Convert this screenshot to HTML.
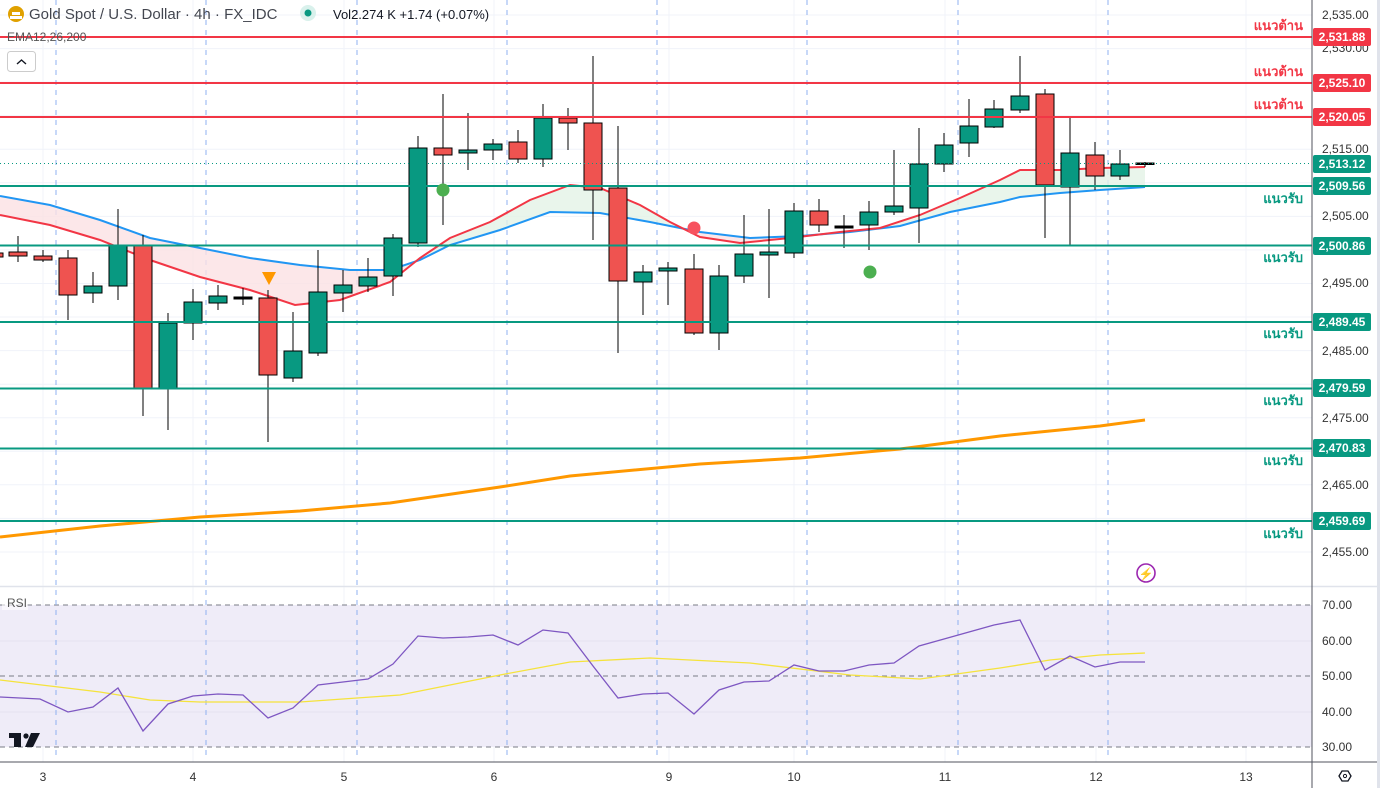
<!DOCTYPE html>
<html><head><meta charset="utf-8"><style>
html,body{margin:0;padding:0;background:#fff;}
svg{display:block;font-family:"Liberation Sans","Noto Sans CJK SC",sans-serif;}
</style></head><body>
<svg width="1380" height="788" viewBox="0 0 1380 788" xmlns="http://www.w3.org/2000/svg">
<defs>
<clipPath id="pk"><rect x="0" y="0" width="405" height="590"/><rect x="690" y="0" width="110" height="590"/></clipPath>
<clipPath id="gr"><rect x="405" y="0" width="285" height="590"/><rect x="800" y="0" width="350" height="590"/></clipPath>
<clipPath id="plot"><rect x="0" y="0" width="1312" height="762"/></clipPath>
</defs>
<rect x="1377" y="0" width="3" height="788" fill="#e0e3eb"/>
<!-- grid -->
<g stroke="#f0f3fa" stroke-width="1">
<line x1="0" y1="15" x2="1312" y2="15"/><line x1="0" y1="48.6" x2="1312" y2="48.6"/><line x1="0" y1="82.1" x2="1312" y2="82.1"/><line x1="0" y1="115.7" x2="1312" y2="115.7"/><line x1="0" y1="149.2" x2="1312" y2="149.2"/><line x1="0" y1="182.8" x2="1312" y2="182.8"/><line x1="0" y1="216.4" x2="1312" y2="216.4"/><line x1="0" y1="249.9" x2="1312" y2="249.9"/><line x1="0" y1="283.5" x2="1312" y2="283.5"/><line x1="0" y1="317" x2="1312" y2="317"/><line x1="0" y1="350.6" x2="1312" y2="350.6"/><line x1="0" y1="384.2" x2="1312" y2="384.2"/><line x1="0" y1="417.7" x2="1312" y2="417.7"/><line x1="0" y1="451.3" x2="1312" y2="451.3"/><line x1="0" y1="484.8" x2="1312" y2="484.8"/><line x1="0" y1="518.4" x2="1312" y2="518.4"/><line x1="0" y1="552" x2="1312" y2="552"/>
<line x1="43" y1="0" x2="43" y2="762"/><line x1="193" y1="0" x2="193" y2="762"/><line x1="344" y1="0" x2="344" y2="762"/><line x1="494" y1="0" x2="494" y2="762"/><line x1="669" y1="0" x2="669" y2="762"/><line x1="794" y1="0" x2="794" y2="762"/><line x1="945" y1="0" x2="945" y2="762"/><line x1="1096" y1="0" x2="1096" y2="762"/><line x1="1246" y1="0" x2="1246" y2="762"/>
</g>
<!-- RSI bg -->
<rect x="0" y="605" width="1312" height="142" fill="#efecf8"/>
<line x1="0" y1="641" x2="1312" y2="641" stroke="#e4e2ef"/><line x1="0" y1="712" x2="1312" y2="712" stroke="#e4e2ef"/>
<g stroke="#787b86" stroke-dasharray="5,4" stroke-width="1">
<line x1="0" y1="605" x2="1312" y2="605"/><line x1="0" y1="676" x2="1312" y2="676"/><line x1="0" y1="747" x2="1312" y2="747"/>
</g>
<line x1="0" y1="586.5" x2="1377" y2="586.5" stroke="#e0e3eb" stroke-width="1.5"/>
<!-- session dashed -->
<g stroke="#8fb0f0" stroke-dasharray="5,5" stroke-width="1">
<line x1="56" y1="0" x2="56" y2="757"/><line x1="206" y1="0" x2="206" y2="757"/><line x1="357" y1="0" x2="357" y2="757"/><line x1="507" y1="0" x2="507" y2="757"/><line x1="657" y1="0" x2="657" y2="757"/><line x1="807" y1="0" x2="807" y2="757"/><line x1="958" y1="0" x2="958" y2="757"/><line x1="1108" y1="0" x2="1108" y2="757"/>
</g>
<!-- EMA cloud -->
<g clip-path="url(#plot)">
<polygon clip-path="url(#pk)" fill="#fbe1e3" opacity="0.8" points="0,215 50,225 100,240 150,260 200,277 250,290 295,305 340,300 390,282 420,258 450,238 490,222 530,200 570,185 600,188 640,205 670,222 700,237 740,243 790,238 840,232 880,228 920,215 960,198 1000,180 1020,170 1060,170 1100,168 1145,167 1145,187 1100,190 1060,193 1020,197 1000,202 950,212 900,226 850,232 800,236 750,238 700,232 650,222 600,213 550,212 500,230 450,245 420,260 390,270 350,270 300,265 250,258 200,248 150,238 100,220 50,205 0,196"/>
<polygon clip-path="url(#gr)" fill="#e3f3e6" opacity="0.8" points="0,215 50,225 100,240 150,260 200,277 250,290 295,305 340,300 390,282 420,258 450,238 490,222 530,200 570,185 600,188 640,205 670,222 700,237 740,243 790,238 840,232 880,228 920,215 960,198 1000,180 1020,170 1060,170 1100,168 1145,167 1145,187 1100,190 1060,193 1020,197 1000,202 950,212 900,226 850,232 800,236 750,238 700,232 650,222 600,213 550,212 500,230 450,245 420,260 390,270 350,270 300,265 250,258 200,248 150,238 100,220 50,205 0,196"/>
<polyline fill="none" stroke="#2196f3" stroke-width="2" points="0,196 50,205 100,220 150,238 200,248 250,258 300,265 350,270 390,270 420,260 450,245 500,230 550,212 600,213 650,222 700,232 750,238 800,236 850,232 900,226 950,212 1000,202 1020,197 1060,193 1100,190 1145,187"/>
<polyline fill="none" stroke="#f23645" stroke-width="2" points="0,215 50,225 100,240 150,260 200,277 250,290 295,305 340,300 390,282 420,258 450,238 490,222 530,200 570,185 600,188 640,205 670,222 700,237 740,243 790,238 840,232 880,228 920,215 960,198 1000,180 1020,170 1060,170 1100,168 1145,167"/>
<polyline fill="none" stroke="#ff9800" stroke-width="3" points="0,537 100,526 200,517 300,511 390,503 500,487 570,476 700,464 800,458 900,449 1000,436 1100,426 1145,420"/>
</g>
<!-- candles -->
<g stroke="#000" stroke-width="1">
<line x1="-6" y1="243" x2="-6" y2="262"/><rect x="-15" y="253" width="18" height="4" fill="#ef5350"/>
<line x1="18" y1="236" x2="18" y2="262"/><rect x="9" y="252" width="18" height="4" fill="#ef5350"/>
<line x1="43" y1="250" x2="43" y2="262"/><rect x="34" y="256" width="18" height="4" fill="#ef5350"/>
<line x1="68" y1="250" x2="68" y2="320"/><rect x="59" y="258" width="18" height="37" fill="#ef5350"/>
<line x1="93" y1="272" x2="93" y2="303"/><rect x="84" y="286" width="18" height="7" fill="#089981"/>
<line x1="118" y1="209" x2="118" y2="300"/><rect x="109" y="245" width="18" height="41" fill="#089981"/>
<line x1="143" y1="235" x2="143" y2="416"/><rect x="134" y="245" width="18" height="143" fill="#ef5350"/>
<line x1="168" y1="313" x2="168" y2="430"/><rect x="159" y="323" width="18" height="65" fill="#089981"/>
<line x1="193" y1="289" x2="193" y2="340"/><rect x="184" y="302" width="18" height="21" fill="#089981"/>
<line x1="218" y1="285" x2="218" y2="310"/><rect x="209" y="296" width="18" height="7" fill="#089981"/>
<line x1="243" y1="288" x2="243" y2="305"/><rect x="234" y="297" width="18" height="2" fill="#000"/>
<line x1="268" y1="290" x2="268" y2="442"/><rect x="259" y="298" width="18" height="77" fill="#ef5350"/>
<line x1="293" y1="312" x2="293" y2="382"/><rect x="284" y="351" width="18" height="27" fill="#089981"/>
<line x1="318" y1="250" x2="318" y2="356"/><rect x="309" y="292" width="18" height="61" fill="#089981"/>
<line x1="343" y1="270" x2="343" y2="312"/><rect x="334" y="285" width="18" height="8" fill="#089981"/>
<line x1="368" y1="258" x2="368" y2="292"/><rect x="359" y="277" width="18" height="9" fill="#089981"/>
<line x1="393" y1="234" x2="393" y2="296"/><rect x="384" y="238" width="18" height="38" fill="#089981"/>
<line x1="418" y1="136" x2="418" y2="247"/><rect x="409" y="148" width="18" height="95" fill="#089981"/>
<line x1="443" y1="94" x2="443" y2="225"/><rect x="434" y="148" width="18" height="7" fill="#ef5350"/>
<line x1="468" y1="113" x2="468" y2="170"/><rect x="459" y="150" width="18" height="3" fill="#089981"/>
<line x1="493" y1="139" x2="493" y2="160"/><rect x="484" y="144" width="18" height="6" fill="#089981"/>
<line x1="518" y1="130" x2="518" y2="163"/><rect x="509" y="142" width="18" height="17" fill="#ef5350"/>
<line x1="543" y1="104" x2="543" y2="167"/><rect x="534" y="118" width="18" height="41" fill="#089981"/>
<line x1="568" y1="108" x2="568" y2="150"/><rect x="559" y="118" width="18" height="5" fill="#ef5350"/>
<line x1="593" y1="56" x2="593" y2="240"/><rect x="584" y="123" width="18" height="67" fill="#ef5350"/>
<line x1="618" y1="126" x2="618" y2="353"/><rect x="609" y="188" width="18" height="93" fill="#ef5350"/>
<line x1="643" y1="265" x2="643" y2="315"/><rect x="634" y="272" width="18" height="10" fill="#089981"/>
<line x1="668" y1="262" x2="668" y2="305"/><rect x="659" y="268" width="18" height="3" fill="#089981"/>
<line x1="694" y1="254" x2="694" y2="335"/><rect x="685" y="269" width="18" height="64" fill="#ef5350"/>
<line x1="719" y1="265" x2="719" y2="350"/><rect x="710" y="276" width="18" height="57" fill="#089981"/>
<line x1="744" y1="215" x2="744" y2="283"/><rect x="735" y="254" width="18" height="22" fill="#089981"/>
<line x1="769" y1="209" x2="769" y2="298"/><rect x="760" y="252" width="18" height="3" fill="#089981"/>
<line x1="794" y1="203" x2="794" y2="258"/><rect x="785" y="211" width="18" height="42" fill="#089981"/>
<line x1="819" y1="199" x2="819" y2="232"/><rect x="810" y="211" width="18" height="14" fill="#ef5350"/>
<line x1="844" y1="215" x2="844" y2="248"/><rect x="835" y="226" width="18" height="2" fill="#000"/>
<line x1="869" y1="201" x2="869" y2="250"/><rect x="860" y="212" width="18" height="13" fill="#089981"/>
<line x1="894" y1="150" x2="894" y2="215"/><rect x="885" y="206" width="18" height="6" fill="#089981"/>
<line x1="919" y1="128" x2="919" y2="243"/><rect x="910" y="164" width="18" height="44" fill="#089981"/>
<line x1="944" y1="133" x2="944" y2="172"/><rect x="935" y="145" width="18" height="19" fill="#089981"/>
<line x1="969" y1="99" x2="969" y2="157"/><rect x="960" y="126" width="18" height="17" fill="#089981"/>
<line x1="994" y1="100" x2="994" y2="128"/><rect x="985" y="109" width="18" height="18" fill="#089981"/>
<line x1="1020" y1="56" x2="1020" y2="113"/><rect x="1011" y="96" width="18" height="14" fill="#089981"/>
<line x1="1045" y1="89" x2="1045" y2="238"/><rect x="1036" y="94" width="18" height="91" fill="#ef5350"/>
<line x1="1070" y1="116" x2="1070" y2="245"/><rect x="1061" y="153" width="18" height="34" fill="#089981"/>
<line x1="1095" y1="142" x2="1095" y2="190"/><rect x="1086" y="155" width="18" height="21" fill="#ef5350"/>
<line x1="1120" y1="150" x2="1120" y2="180"/><rect x="1111" y="164" width="18" height="12" fill="#089981"/>
<line x1="1145" y1="162" x2="1145" y2="167"/><rect x="1136" y="163" width="18" height="1.5" fill="#000"/>
</g>
<!-- levels -->
<g stroke-width="2">
<line x1="0" y1="37" x2="1312" y2="37" stroke="#f23645"/>
<line x1="0" y1="83" x2="1312" y2="83" stroke="#f23645"/>
<line x1="0" y1="117" x2="1312" y2="117" stroke="#f23645"/>
<line x1="0" y1="186" x2="1312" y2="186" stroke="#089981"/>
<line x1="0" y1="245.5" x2="1312" y2="245.5" stroke="#089981"/>
<line x1="0" y1="322" x2="1312" y2="322" stroke="#089981"/>
<line x1="0" y1="388.5" x2="1312" y2="388.5" stroke="#089981"/>
<line x1="0" y1="448.5" x2="1312" y2="448.5" stroke="#089981"/>
<line x1="0" y1="521" x2="1312" y2="521" stroke="#089981"/>
</g>
<line x1="0" y1="163.5" x2="1312" y2="163.5" stroke="#089981" stroke-dasharray="1,3" stroke-width="1"/>
<!-- markers -->
<circle cx="443" cy="190" r="6.5" fill="#4caf50"/>
<circle cx="694" cy="228" r="6.5" fill="#f7525f"/>
<circle cx="870" cy="272" r="6.5" fill="#4caf50"/>
<polygon points="262,272 276,272 269,285" fill="#ff9800"/>
<circle cx="1146" cy="573" r="9" fill="none" stroke="#9c27b0" stroke-width="1.6"/>
<text x="1146" y="578" font-size="12" fill="#9c27b0" text-anchor="middle">⚡</text>
<!-- RSI -->
<polyline fill="none" stroke="#f5e33c" stroke-width="1.3" points="0,680 100,692 150,700 200,702 300,702 400,695 500,675 570,662 650,658 750,663 850,675 920,679 1000,668 1050,660 1100,655 1145,653"/>
<polyline fill="none" stroke="#7e57c2" stroke-width="1.3" points="0,697 40,699 68,712 93,707 118,688 143,731 168,704 193,696 218,694 243,695 268,718 293,708 318,685 343,682 368,679 393,664 418,636 443,638 468,637 493,635 518,645 543,630 568,633 593,666 618,698 643,694 668,693 694,714 719,690 744,682 769,681 794,665 819,671 844,671 869,665 894,663 919,646 944,639 969,632 994,625 1020,620 1045,670 1070,656 1095,667 1120,662 1145,662"/>
<rect x="2" y="595" width="26" height="15" fill="#fff" opacity="0.6"/>
<text x="7" y="607" font-size="12" fill="#555">RSI</text>
<!-- TV logo -->
<g fill="#131722"><rect x="9" y="733" width="12" height="5"/><rect x="14" y="733" width="7" height="14"/><circle cx="26" cy="736" r="2.6"/><polygon points="31,733 40,733 33,747 25,747"/></g>
<!-- axes -->
<line x1="1312" y1="0" x2="1312" y2="788" stroke="#50535e" stroke-width="1"/>
<line x1="0" y1="762" x2="1377" y2="762" stroke="#50535e" stroke-width="1"/>
<g font-size="12" fill="#333">
<text x="1322" y="19">2,535.00</text><text x="1322" y="52">2,530.00</text><text x="1322" y="153">2,515.00</text><text x="1322" y="220">2,505.00</text><text x="1322" y="287">2,495.00</text><text x="1322" y="355">2,485.00</text><text x="1322" y="422">2,475.00</text><text x="1322" y="489">2,465.00</text><text x="1322" y="556">2,455.00</text>
<text x="1322" y="609">70.00</text><text x="1322" y="645">60.00</text><text x="1322" y="680">50.00</text><text x="1322" y="716">40.00</text><text x="1322" y="751">30.00</text>
</g>
<g font-size="12" fill="#333" text-anchor="middle">
<text x="43" y="781">3</text><text x="193" y="781">4</text><text x="344" y="781">5</text><text x="494" y="781">6</text><text x="669" y="781">9</text><text x="794" y="781">10</text><text x="945" y="781">11</text><text x="1096" y="781">12</text><text x="1246" y="781">13</text>
</g>
<polygon points="1339,776 1342,771 1348,771 1351,776 1348,781 1342,781" fill="none" stroke="#131722" stroke-width="1.3"/><circle cx="1345" cy="776" r="1.6" fill="none" stroke="#131722"/>
<!-- badges -->
<g font-size="12" font-weight="bold" fill="#fff" text-anchor="middle">
<rect x="1313" y="28" width="58" height="18" rx="2" fill="#f23645"/><text x="1342" y="41">2,531.88</text>
<rect x="1313" y="74" width="58" height="18" rx="2" fill="#f23645"/><text x="1342" y="87">2,525.10</text>
<rect x="1313" y="108" width="58" height="18" rx="2" fill="#f23645"/><text x="1342" y="121">2,520.05</text>
<rect x="1313" y="155" width="58" height="18" rx="2" fill="#089981"/><text x="1342" y="168">2,513.12</text>
<rect x="1313" y="177" width="58" height="18" rx="2" fill="#089981"/><text x="1342" y="190">2,509.56</text>
<rect x="1313" y="237" width="58" height="18" rx="2" fill="#089981"/><text x="1342" y="250">2,500.86</text>
<rect x="1313" y="313" width="58" height="18" rx="2" fill="#089981"/><text x="1342" y="326">2,489.45</text>
<rect x="1313" y="379" width="58" height="18" rx="2" fill="#089981"/><text x="1342" y="392">2,479.59</text>
<rect x="1313" y="439" width="58" height="18" rx="2" fill="#089981"/><text x="1342" y="452">2,470.83</text>
<rect x="1313" y="512" width="58" height="18" rx="2" fill="#089981"/><text x="1342" y="525">2,459.69</text>
</g>
<!-- Thai labels -->
<g font-size="13" font-weight="bold" text-anchor="end" font-family="'Liberation Sans','Noto Sans CJK SC','WenQuanYi Zen Hei',sans-serif">
<text x="1303" y="30" fill="#f23645">แนวต้าน</text>
<text x="1303" y="76" fill="#f23645">แนวต้าน</text>
<text x="1303" y="109" fill="#f23645">แนวต้าน</text>
<text x="1303" y="203" fill="#089981">แนวรับ</text>
<text x="1303" y="262" fill="#089981">แนวรับ</text>
<text x="1303" y="338" fill="#089981">แนวรับ</text>
<text x="1303" y="405" fill="#089981">แนวรับ</text>
<text x="1303" y="465" fill="#089981">แนวรับ</text>
<text x="1303" y="538" fill="#089981">แนวรับ</text>
</g>
<!-- header -->
<circle cx="16" cy="14" r="8" fill="#e0a100"/><rect x="12" y="12" width="8" height="3" fill="#fff"/><rect x="10" y="16" width="12" height="3" fill="#fff"/>
<text x="29" y="19" font-size="15" fill="#131722" opacity="0.8">Gold Spot / U.S. Dollar · 4h · FX_IDC</text>
<circle cx="308" cy="13" r="8" fill="#d9f1ec"/><circle cx="308" cy="13" r="3.5" fill="#089981"/>
<text x="333" y="19" font-size="13" fill="#131722">Vol<tspan>2.274 K</tspan>  +1.74 (+0.07%)</text>
<text x="7" y="41" font-size="12" fill="#555">EMA12,26,200</text>
<rect x="7.5" y="51.5" width="28" height="20" rx="3" fill="#fff" stroke="#ccc"/>
<polyline points="17,64 21.5,60 26,64" fill="none" stroke="#131722" stroke-width="1.4"/>
</svg>
</body></html>
